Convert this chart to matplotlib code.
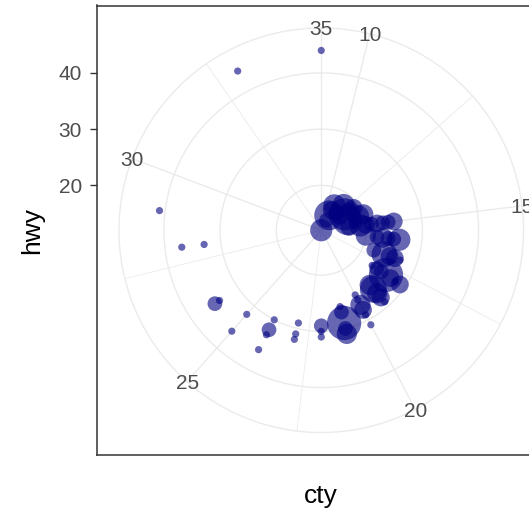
import numpy as np
import matplotlib
matplotlib.use('Agg')
import matplotlib.pyplot as plt

plt.rcParams['font.family'] = ['Liberation Sans', 'DejaVu Sans']

# mpg: unique (cty, hwy) combinations and how many cars share each one
cty = [9, 11, 11, 11, 11, 12, 12, 12, 13, 13, 13, 13, 14, 14, 14, 14,
       15, 15, 15, 15, 15, 15, 15, 15, 15, 16, 16, 16, 16, 16, 16,
       17, 17, 17, 17, 17, 18, 18, 18, 18, 18, 18, 18,
       19, 19, 19, 19, 19, 20, 20, 20, 20, 20, 20,
       21, 21, 21, 21, 21, 22, 22, 22, 23, 23, 23,
       24, 24, 24, 24, 25, 25, 26, 26, 28, 28, 29, 33, 35]
hwy = [12, 14, 15, 16, 17, 16, 17, 18, 16, 17, 18, 19, 17, 18, 19, 20,
       17, 18, 19, 20, 21, 22, 23, 24, 25, 20, 22, 23, 24, 25, 26,
       22, 24, 25, 26, 27, 23, 24, 25, 26, 27, 28, 29,
       25, 26, 27, 28, 29, 25, 26, 27, 28, 29, 31,
       26, 27, 29, 30, 31, 29, 30, 31, 29, 31, 32,
       30, 32, 33, 36, 32, 36, 34, 35, 33, 37, 41, 44, 44]
n = [5, 2, 10, 3, 5, 2, 1, 5, 2, 12, 3, 3, 10, 1, 5, 4,
     3, 1, 5, 3, 2, 3, 2, 2, 3, 4, 2, 4, 2, 2, 5,
     2, 7, 3, 3, 1, 1, 2, 2, 14, 3, 1, 3,
     4, 8, 4, 3, 1, 1, 1, 4, 3, 1, 1,
     1, 2, 14, 2, 4, 2, 1, 1, 1, 1, 1,
     1, 2, 1, 1, 1, 1, 1, 2, 1, 1, 1, 1, 1]

theta_breaks = [10, 15, 20, 25, 30, 35]
theta_minor = [12.5, 17.5, 22.5, 27.5, 32.5]
r_breaks = [20, 30, 40]

cty = np.array(cty, dtype=float)
hwy = np.array(hwy, dtype=float)
n = np.array(n, dtype=float)

t_min, t_max = cty.min(), cty.max()
r_min, r_max = hwy.min(), hwy.max()


def to_theta(v):
    return 2 * np.pi * (np.asarray(v, dtype=float) - t_min) / (t_max - t_min)


# ggplot-like polar: data radius spans 0..0.4 of panel, outer circle at 0.45
r_outer = r_min + (r_max - r_min) * 0.45 / 0.4
r_edge = r_min + (r_max - r_min) * 0.5 / 0.4

dpi = 100
fig = plt.figure(figsize=(5.29, 5.14), dpi=dpi, facecolor='white')
W, H = 529, 514
left, top, size = 96.5, 5.5, 449.5
rect = [left / W, (H - top - size) / H, size / W, size / H]

ax = fig.add_axes(rect)
ax.set_facecolor('white')
ax.set_xlim(0, 1)
ax.set_ylim(r_min - (r_edge - r_min), r_edge)
ax.set_xticks([])
ax.set_yticks(r_breaks)
for sp in ax.spines.values():
    sp.set_color('#333333')
    sp.set_linewidth(1.1)
ax.tick_params(axis='y', length=5, width=1, color='#333333',
               labelcolor='#4D4D4D', labelsize=15, pad=5.5)
ax.set_ylabel('hwy', fontsize=19, color='black', va='center')
ax.yaxis.set_label_coords((32 - left) / size, 0.5)
ax.set_xlabel('cty', fontsize=19, color='black', va='center')
ax.xaxis.set_label_coords(0.5, -(496 - top - size) / size)

pax = fig.add_axes(rect, projection='polar')
pax.set_facecolor('none')
pax.set_theta_zero_location('N')
pax.set_theta_direction(-1)
pax.set_rlim(r_min, r_edge)
pax.grid(False)
pax.set_xticks([])
pax.set_yticks([])
pax.spines['polar'].set_visible(False)

grid_col = '#EBEBEB'
ring = np.linspace(0, 2 * np.pi, 400)
for r in r_breaks + [r_outer]:
    pax.plot(ring, np.full_like(ring, r), color=grid_col, lw=1.0, zorder=1)
for t in theta_breaks:
    th = to_theta(t)
    pax.plot([th, th], [r_min, r_outer], color=grid_col, lw=1.0, zorder=1)
for t in theta_minor:
    th = to_theta(t)
    pax.plot([th, th], [r_min, r_outer], color=grid_col, lw=0.6, zorder=1)

# geom_count style sizes: area scale from range 1..6
s_gg = 1 + 5 * np.sqrt((n - n.min()) / (n.max() - n.min()))
d_px = 1.9 * (2.845 * s_gg + 0.945)
pax.scatter(to_theta(cty), hwy, s=(d_px * 72 / dpi) ** 2, color='navy',
            alpha=0.6, edgecolors='none', zorder=3, clip_on=False)

for t in theta_breaks:
    pax.text(to_theta(t), r_outer, str(t), ha='center', va='center_baseline',
             fontsize=15, color='#4D4D4D', zorder=4)

fig.savefig('out.png', dpi=dpi)
